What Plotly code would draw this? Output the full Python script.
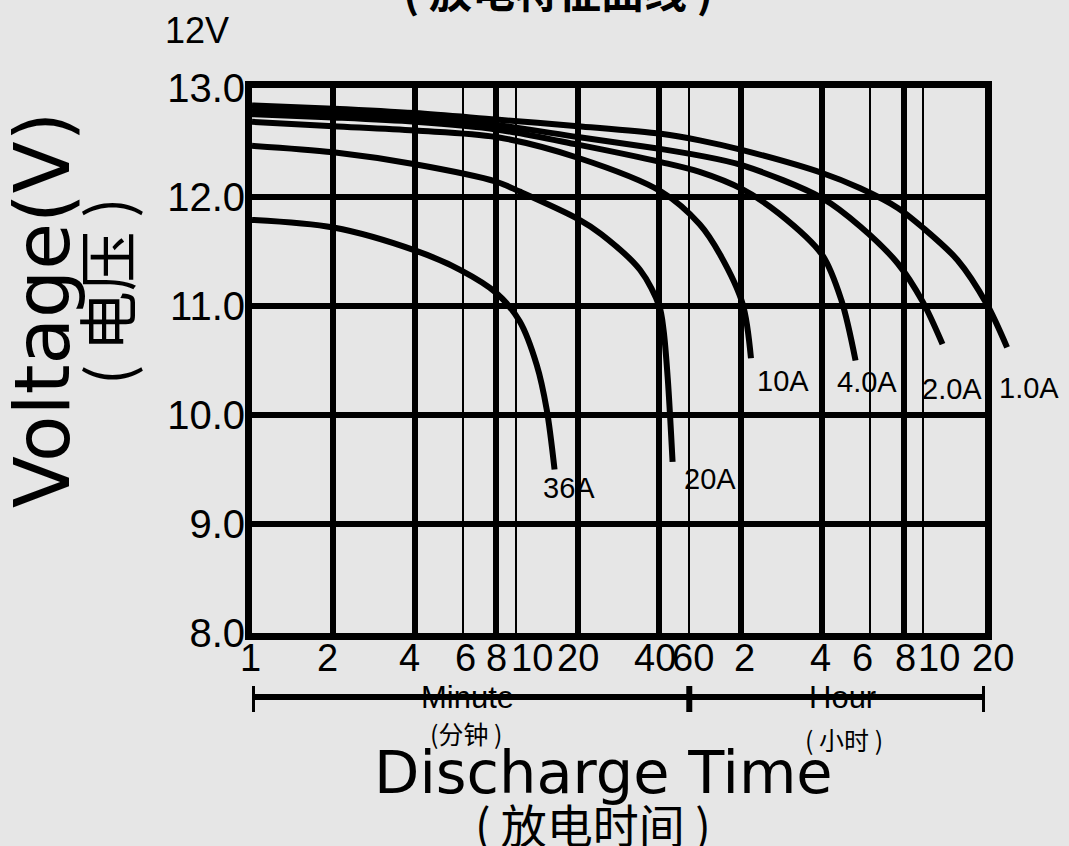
import numpy as np
import plotly.graph_objects as go

# ---------------- data ----------------
# discharge time in minutes, voltage in volts
curve_names = ["1.0A", "2.0A", "4.0A", "10A", "20A", "36A"]

t_1A = [1, 2, 4, 8, 20, 41, 69, 122, 240, 332, 457, 595, 882, 1222, 1538]
v_1A = [12.84, 12.81, 12.77, 12.71, 12.65, 12.58, 12.52, 12.43, 12.22, 12.08, 11.90, 11.72, 11.42, 11.02, 10.62]

t_2A = [1, 2, 4, 8, 20, 41, 69, 122, 240, 332, 457, 595, 744]
v_2A = [12.80, 12.77, 12.73, 12.66, 12.55, 12.44, 12.38, 12.29, 11.99, 11.73, 11.39, 11.04, 10.65]

t_4A = [1, 2, 4, 8, 20, 41, 69, 122, 166, 240, 283, 319]
v_4A = [12.76, 12.73, 12.69, 12.62, 12.48, 12.32, 12.23, 12.07, 11.85, 11.47, 11.05, 10.50]

t_10A = [1, 2, 4, 8, 20, 41, 69, 91, 122, 131]
v_10A = [12.69, 12.65, 12.61, 12.55, 12.36, 12.05, 11.75, 11.47, 11.02, 10.52]

t_20A = [1, 2, 4, 8, 10.4, 20, 24.4, 34, 40, 42.4, 44.9, 47.9]
v_20A = [12.47, 12.41, 12.30, 12.14, 12.05, 11.80, 11.66, 11.33, 11.00, 10.78, 10.33, 9.57]

t_36A = [1, 2, 4, 5.9, 8, 10.4, 12.6, 14.1, 15.4]
v_36A = [11.79, 11.72, 11.51, 11.33, 11.12, 10.86, 10.46, 10.05, 9.50]

curve_times = [t_1A, t_2A, t_4A, t_10A, t_20A, t_36A]
curve_volts = [v_1A, v_2A, v_4A, v_10A, v_20A, v_36A]

# time axis of the printed grid (minutes): heavy lines and light lines
major_grid_min = [1, 2, 4, 8, 20, 40, 120, 240, 480, 1200]
minor_grid_min = [6, 10, 60, 360, 600]
tick_min = [1, 2, 4, 6, 8, 10, 20, 40, 60, 120, 240, 360, 480, 600, 1200]
tick_text = ["1", "2", "4", "6", "8", "10", "20", "40", "60", "2", "4", "6", "8", "10", "20"]
y_ticks = [8, 9, 10, 11, 12, 13]

# ---------------- scale ----------------
def time_axis(t):
    """Chart's printed time scale: each heavy grid line is one unit, log between them."""
    lt = np.log(np.asarray(t, dtype=float))
    lk = np.log(np.asarray(major_grid_min, dtype=float))
    u = np.interp(lt, lk, np.arange(len(lk)))
    slope = 1.0 / (lk[-1] - lk[-2])
    return np.where(lt > lk[-1], (len(lk) - 1) + (lt - lk[-1]) * slope, u)

W, H = 1069, 846
ML, MR, MT, MB = 252, 49, 88, 213
PW, PH = W - ML - MR, H - MT - MB
FRAME_RIGHT = 985
DX = (FRAME_RIGHT - ML) / PW
NU = len(major_grid_min) - 1


def px(xpix):
    return (xpix - ML) / PW


def py(ypix):
    return 1 - (ypix - MT) / PH


LATIN = "Liberation Sans, Arial, Helvetica, sans-serif"
WIDE = "DejaVu Sans, Liberation Sans, sans-serif"
CJK = "Noto Sans CJK SC, Liberation Sans, sans-serif"
BG = "#e6e6e6"

fig = go.Figure()
for name, t, v in zip(curve_names, curve_times, curve_volts):
    fig.add_trace(go.Scatter(
        x=time_axis(t), y=v, mode="lines", name=name,
        line=dict(color="black", width=6, shape="spline", smoothing=0.9),
        xaxis="x2", yaxis="y2", showlegend=False, hoverinfo="skip"))

# curve end labels
label_shift = {"1.0A": (22, -41), "2.0A": (9, -45), "4.0A": (11, -21),
               "10A": (32, -23), "20A": (37, -17), "36A": (14, -18)}
annotations = []
for name, t, v in zip(curve_names, curve_times, curve_volts):
    dx, dy = label_shift[name]
    annotations.append(dict(x=float(time_axis([t[-1]])[0]), y=v[-1], xref="x2", yref="y2",
                            text=name, showarrow=False, xshift=dx, yshift=dy,
                            font=dict(family=LATIN, size=29, color="black")))

# x tick labels (nudged like the printed chart)
tick_nudge = [-2, -6, -5, 3, 0, 16, 0, -4, 4, 4, -2, -7, 2, 16, 8]
for tm, tx, nd in zip(tick_min, tick_text, tick_nudge):
    annotations.append(dict(x=float(time_axis([tm])[0]), y=py(658), xref="x", yref="paper",
                            text=tx, showarrow=False, xshift=nd, yanchor="middle",
                            font=dict(family=LATIN, size=38, color="black")))

def txt(text, x, y, size, family=LATIN, angle=0, xanchor="center"):
    annotations.append(dict(x=x, y=y, xref="paper", yref="paper", text=text, showarrow=False,
                            textangle=angle, xanchor=xanchor, yanchor="middle",
                            font=dict(family=family, size=size, color="black")))

txt("<b>( 放电特征曲线 )</b>", px(558), py(-11), 43, CJK)
txt("12V", px(163), py(30), 36, xanchor="left")
txt("Voltage(V)", px(42), py(310), 76, WIDE, angle=-90)
txt("( 电压 )", px(104), py(292), 60, CJK, angle=-90)
txt("Minute", px(467), py(697), 31)
txt("(分钟 )", px(466), py(733), 25, CJK)
txt("Hour", px(842), py(697), 31)
txt("( 小时 )", px(844), py(739), 25, CJK)
txt("Discharge Time", px(603), py(772), 59, WIDE)
txt("( 放电时间 )", px(593), py(823), 46, CJK)

# minute / hour bracket under the time axis
shapes = []
u_start, u_mid, u_end = [float(a) for a in time_axis([1, 60, 1200])]
shapes.append(dict(type="line", xref="x", yref="paper", x0=u_start, x1=u_end,
                   y0=py(697), y1=py(697), line=dict(color="black", width=6)))
for u in (u_start, u_mid, u_end):
    shapes.append(dict(type="line", xref="x", yref="paper", x0=u, x1=u,
                       y0=py(686), y1=py(712), line=dict(color="black", width=6)))

fig.update_layout(
    width=W, height=H,
    margin=dict(l=ML, r=MR, t=MT, b=MB, pad=0),
    paper_bgcolor=BG, plot_bgcolor="rgba(0,0,0,0)",
    showlegend=False,
    xaxis=dict(domain=[0, DX], range=[0, NU], tickmode="array",
               tickvals=list(time_axis(major_grid_min)), showticklabels=False, ticks="",
               showgrid=True, gridcolor="black", gridwidth=6, zeroline=False,
               showline=True, linecolor="black", linewidth=7, mirror=True,
               minor=dict(tickmode="array", tickvals=list(time_axis(minor_grid_min)),
                          showgrid=True, gridcolor="black", gridwidth=2, ticks="")),
    yaxis=dict(domain=[0, 1], range=[8, 13], tickmode="array", tickvals=y_ticks,
               ticktext=[f"{v:.1f}" for v in y_ticks], ticks="",
               tickfont=dict(family=LATIN, size=40, color="black"), ticklabelstandoff=-8,
               showgrid=True, gridcolor="black", gridwidth=6, zeroline=False,
               showline=True, linecolor="black", linewidth=7, mirror=True),
    xaxis2=dict(domain=[0, 1], range=[0, NU / DX], visible=False, anchor="y2"),
    yaxis2=dict(domain=[0, 1], range=[8, 13], visible=False, anchor="x2"),
    annotations=annotations, shapes=shapes,
)

fig.write_html(
    "out.html",
    config={"displayModeBar": False},
    post_script="document.body.style.margin='0';document.body.style.padding='0';"
                "document.body.style.overflow='hidden';",
)
